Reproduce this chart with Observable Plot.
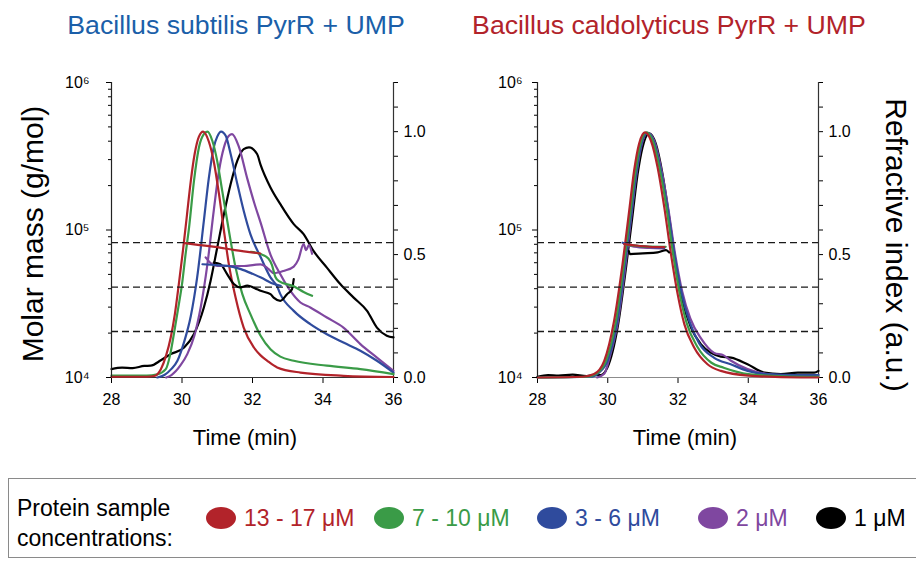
<!DOCTYPE html>
<html><head><meta charset="utf-8">
<script src="https://cdn.jsdelivr.net/npm/d3@7"></script>
<script src="https://cdn.jsdelivr.net/npm/@observablehq/plot@0.6"></script>
<style>
body{margin:0;background:#fff;}
#root{position:relative;width:916px;height:561px;overflow:hidden;font-family:"Liberation Sans",Arial,Helvetica,sans-serif;color:#000;}
.abs{position:absolute;white-space:nowrap;line-height:1;}
.panel{position:absolute;top:0;width:458px;height:420px;}
.panel svg{position:absolute;left:0;top:0;}
.legend{position:absolute;left:8px;top:478px;width:930px;height:80px;border:1px solid #8a8a8a;box-sizing:border-box;}
.legtitle{position:absolute;left:8px;top:14px;font-size:23px;line-height:30px;}
.item{position:absolute;top:27px;display:flex;align-items:center;gap:8px;font-size:23px;line-height:24px;white-space:nowrap;}
.dot{width:30px;height:22px;border-radius:50%;display:inline-block;}
</style></head><body><div id="root"></div>
<script>
// ---------- categories / colours ----------
const concLabels = ["13 - 17 μM", "7 - 10 μM", "3 - 6 μM", "2 μM", "1 μM"];
const concColors = ["#b2232a", "#3a9b47", "#2f4b9d", "#7f47a0", "#000000"];
const panelTitles = ["Bacillus subtilis PyrR + UMP", "Bacillus caldolyticus PyrR + UMP"];
const titleColors = ["#1b5fa9", "#b2232a"];

// ---------- ticks ----------
const timeTicks = [28, 30, 32, 34, 36];
const riTicks = [0, 0.1, 0.2, 0.3, 0.4, 0.5, 0.6, 0.7, 0.8, 0.9, 1.0, 1.1, 1.2];
const riTickLabels = [0, 0.5, 1.0];
const mmMajorTicks = [1e4, 1e5, 1e6];
const mmMajorLabels = ["10⁴", "10⁵", "10⁶"];
const mmMinorTicks = [2e4, 3e4, 4e4, 5e4, 6e4, 7e4, 8e4, 9e4, 2e5, 3e5, 4e5, 5e5, 6e5, 7e5, 8e5, 9e5];
const oligomerLevels = [20500, 41000, 82000];

// ---------- B. subtilis: refractive index [time, RI] ----------
const bsRI_13to17 = [[28,0.003],[29.0,0.003],[29.21,0.006],[29.40,0.034],[29.55,0.09],[29.68,0.163],[29.80,0.26],[29.91,0.38],[30.03,0.52],[30.14,0.66],[30.25,0.80],[30.36,0.91],[30.48,0.98],[30.60,1.0],[30.76,0.96],[30.90,0.88],[31.05,0.746],[31.19,0.597],[31.33,0.46],[31.52,0.325],[31.75,0.203],[32.04,0.122],[32.23,0.09],[32.42,0.068],[32.70,0.041],[33.36,0.02],[34.58,0.007],[36,0.002]];
const bsRI_7to10 = [[28,0.008],[29.0,0.008],[29.3,0.013],[29.54,0.034],[29.66,0.09],[29.77,0.177],[29.89,0.28],[30.01,0.39],[30.10,0.50],[30.20,0.61],[30.34,0.80],[30.48,0.936],[30.62,0.99],[30.72,1.0],[30.86,0.963],[31.0,0.88],[31.14,0.76],[31.33,0.597],[31.52,0.447],[31.71,0.34],[31.94,0.258],[32.23,0.17],[32.51,0.115],[32.79,0.085],[33.17,0.068],[34.11,0.048],[35.06,0.034],[36,0.014]];
const bsRI_3to6 = [[29.3,0.0],[29.5,0.01],[29.7,0.035],[29.87,0.068],[30.05,0.14],[30.25,0.25],[30.43,0.407],[30.62,0.637],[30.76,0.81],[30.90,0.936],[31.0,0.98],[31.11,1.0],[31.24,0.983],[31.38,0.909],[31.57,0.787],[31.75,0.678],[31.94,0.583],[32.23,0.49],[32.51,0.407],[32.70,0.37],[32.79,0.339],[33.17,0.271],[33.64,0.217],[34.11,0.176],[34.58,0.142],[35.06,0.109],[35.53,0.068],[36.0,0.02]];
const bsRI_2 = [[29.55,0.0],[29.7,0.01],[29.96,0.05],[30.15,0.095],[30.35,0.17],[30.53,0.285],[30.72,0.46],[30.90,0.678],[31.05,0.841],[31.19,0.936],[31.33,0.983],[31.42,0.99],[31.61,0.94],[31.85,0.81],[32.05,0.71],[32.23,0.63],[32.51,0.50],[32.79,0.42],[33.07,0.353],[33.36,0.305],[33.64,0.285],[34.11,0.244],[34.58,0.203],[35.06,0.136],[35.53,0.081],[36.0,0.027]];
const bsRI_1 = [[28,0.034],[28.3,0.04],[28.6,0.038],[28.93,0.047],[29.11,0.048],[29.40,0.07],[29.68,0.095],[30.06,0.122],[30.34,0.177],[30.62,0.285],[30.81,0.393],[31.0,0.529],[31.19,0.665],[31.38,0.787],[31.57,0.882],[31.75,0.929],[31.90,0.936],[32.13,0.909],[32.23,0.865],[32.51,0.773],[32.79,0.705],[33.17,0.624],[33.45,0.583],[33.73,0.515],[34.11,0.447],[34.49,0.38],[34.87,0.325],[35.25,0.271],[35.53,0.203],[35.81,0.17],[36.0,0.163]];

// ---------- B. subtilis: molar mass [time, g/mol] ----------
const bsMM_13to17 = [[30.08,81500],[30.5,79000],[31.0,76500],[31.5,73000],[32.22,69300]];
const bsMM_7to10 = [[31.95,71000],[32.23,68700],[32.45,64000],[32.55,58000],[32.65,48000],[32.75,45000],[33.17,41500],[33.45,38000],[33.69,35800]];
const bsMM_3to6 = [[30.58,58600],[31.0,57800],[31.29,57100],[31.67,54300],[32.0,50500],[32.24,47600],[32.61,43000],[32.8,41800]];
const bsMM_2 = [[30.67,65200],[30.8,60000],[31.0,57000],[31.3,57000],[31.76,57000],[32.05,58000],[32.23,58500],[32.43,55000],[32.61,51000],[32.9,53000],[33.17,56500],[33.3,63000],[33.45,80200],[33.52,73000],[33.6,79000],[33.69,69000]];
const bsMM_1 = [[30.9,60200],[31.09,58700],[31.28,50200],[31.47,43000],[31.66,40800],[31.85,41900],[32.13,39700],[32.23,38700],[32.51,36700],[32.60,34800],[32.79,33100],[32.98,36700],[33.12,39700],[33.17,46400]];

// ---------- B. caldolyticus: refractive index [time, RI] ----------
const bcRI_13to17 = [[28,0],[29.3,0.003],[29.61,0.014],[29.90,0.068],[30.18,0.23],[30.42,0.46],[30.61,0.678],[30.75,0.841],[30.89,0.95],[31.06,0.997],[31.23,0.963],[31.42,0.854],[31.61,0.692],[31.80,0.502],[31.99,0.339],[32.18,0.217],[32.46,0.122],[32.84,0.054],[33.22,0.027],[34.0,0.008],[35.5,0.0],[36,0]];
const bcRI_7to10 = [[28,0],[29.4,0.003],[29.68,0.016],[29.95,0.068],[30.22,0.22],[30.46,0.46],[30.65,0.68],[30.79,0.84],[30.93,0.95],[31.10,0.997],[31.28,0.963],[31.47,0.854],[31.67,0.692],[31.86,0.502],[32.05,0.34],[32.25,0.22],[32.55,0.125],[32.95,0.06],[33.3,0.04],[34.0,0.014],[35.0,0.005],[36,0.003]];
const bcRI_3to6 = [[28,0],[29.5,0.003],[29.75,0.02],[30.0,0.07],[30.26,0.22],[30.49,0.46],[30.68,0.68],[30.82,0.84],[30.96,0.95],[31.13,0.995],[31.31,0.96],[31.50,0.85],[31.70,0.69],[31.90,0.50],[32.1,0.345],[32.32,0.23],[32.6,0.14],[33.03,0.08],[33.5,0.054],[33.98,0.027],[34.5,0.014],[35.5,0.01],[36,0.01]];
const bcRI_2 = [[29.7,0.0],[29.9,0.015],[30.05,0.08],[30.28,0.22],[30.5,0.45],[30.69,0.68],[30.83,0.84],[30.97,0.95],[31.14,0.995],[31.33,0.96],[31.52,0.85],[31.72,0.69],[31.92,0.50],[32.12,0.35],[32.35,0.24],[32.65,0.16],[33.03,0.1],[33.3,0.09],[33.51,0.068],[33.98,0.034],[34.5,0.015],[35,0.01],[36,0.01]];
const bcRI_1 = [[28,0.003],[28.3,0.01],[28.6,0.008],[29.0,0.012],[29.4,0.006],[29.6,0.01],[29.80,0.01],[29.99,0.04],[30.28,0.203],[30.52,0.447],[30.71,0.665],[30.85,0.827],[30.99,0.936],[31.18,0.993],[31.37,0.95],[31.56,0.827],[31.75,0.651],[31.94,0.461],[32.13,0.312],[32.37,0.203],[32.65,0.136],[32.94,0.1],[33.22,0.085],[33.51,0.081],[33.98,0.054],[34.46,0.02],[34.93,0.014],[35.41,0.02],[35.88,0.02],[36.0,0.027]];

// ---------- B. caldolyticus: molar mass [time, g/mol] ----------
const bcMM_13to17 = [[30.47,80200],[30.8,78500],[31.2,77000],[31.61,76500]];
const bcMM_7to10 = [[30.5,79500],[31.0,77500],[31.65,77000]];
const bcMM_3to6 = [[30.42,82000],[30.8,78000],[31.3,76500],[31.62,76000]];
const bcMM_2 = [[30.45,81000],[30.75,77000],[31.2,75500],[31.6,75000]];
const bcMM_1 = [[30.6,72000],[30.63,68700],[31.0,69500],[31.42,70500],[31.66,73000],[31.75,70500]];

// ---------- build tables (drawing order: 1, 2, 3-6, 7-10, 13-17) ----------
function toRows(list) {
  return list.flatMap(([conc, pts]) => pts.map(([t, v]) => ({conc, t, v})));
}
const bsRI = toRows([["1 μM", bsRI_1], ["2 μM", bsRI_2], ["3 - 6 μM", bsRI_3to6], ["7 - 10 μM", bsRI_7to10], ["13 - 17 μM", bsRI_13to17]]);
const bsMM = toRows([["1 μM", bsMM_1], ["2 μM", bsMM_2], ["3 - 6 μM", bsMM_3to6], ["7 - 10 μM", bsMM_7to10], ["13 - 17 μM", bsMM_13to17]]);
const bcRI = toRows([["1 μM", bcRI_1], ["2 μM", bcRI_2], ["3 - 6 μM", bcRI_3to6], ["7 - 10 μM", bcRI_7to10], ["13 - 17 μM", bcRI_13to17]]);
const bcMM = toRows([["1 μM", bcMM_1], ["2 μM", bcMM_2], ["3 - 6 μM", bcMM_3to6], ["7 - 10 μM", bcMM_7to10], ["13 - 17 μM", bcMM_13to17]]);

const root = document.getElementById("root");
const FONT = '"Liberation Sans", Arial, Helvetica, sans-serif';

function makePanel(riRows, mmRows, cfg) {
  const div = document.createElement("div");
  div.className = "panel";
  div.style.left = cfg.left + "px";
  const common = {
    width: 458, height: 420,
    marginTop: 82, marginBottom: 43, marginLeft: cfg.ml, marginRight: cfg.mr,
    style: {background: "transparent", fontFamily: FONT, fontSize: "16px", color: "#000", overflow: "visible"},
    color: {domain: concLabels, range: concColors}
  };
  const riPlot = Plot.plot({
    ...common,
    x: {domain: [28, 36]},
    y: {domain: [0, 1.2]},
    marks: [
      Plot.axisX({ticks: timeTicks, tickSize: 6, tickPadding: 10, tickFormat: d => String(d), label: null, fontSize: 16}),
      Plot.axisY({anchor: "right", ticks: riTicks, tickSize: 4, tickPadding: 6, label: null, fontSize: 16,
        tickFormat: d => riTickLabels.some(v => Math.abs(v - d) < 1e-9) ? d.toFixed(1) : ""}),
      Plot.ruleY([0], {stroke: cfg.bottomColor, strokeWidth: 1.2}),
      Plot.ruleX([36], {stroke: "#333", strokeWidth: 1.2}),
      Plot.line(riRows, {x: "t", y: "v", z: "conc", stroke: "conc", strokeWidth: 2.2, curve: "monotone-x"})
    ]
  });
  const mmPlot = Plot.plot({
    ...common,
    x: {domain: [28, 36], axis: null},
    y: {type: "log", domain: [1e4, 1e6]},
    marks: [
      Plot.ruleY(oligomerLevels, {stroke: "#1a1a1a", strokeWidth: 1.3, strokeDasharray: "7,4"}),
      Plot.axisY({ticks: mmMinorTicks, tickSize: 3, tickFormat: () => "", label: null}),
      Plot.axisY({ticks: mmMajorTicks, tickSize: 5, tickPadding: cfg.ypad, label: null, fontSize: 16,
        tickFormat: d => mmMajorLabels[mmMajorTicks.indexOf(d)] ?? ""}),
      Plot.ruleX([28], {stroke: "#222", strokeWidth: 1.2}),
      Plot.line(mmRows, {x: "t", y: "v", z: "conc", stroke: "conc", strokeWidth: 2.2, curve: "monotone-x"})
    ]
  });
  div.appendChild(riPlot);
  div.appendChild(mmPlot);
  root.appendChild(div);
}

makePanel(bsRI, bsMM, {left: 0, ml: 111, mr: 65, ypad: 17, bottomColor: "#333"});
makePanel(bcRI, bcMM, {left: 458, ml: 79, mr: 98, ypad: 10, bottomColor: "#8c8c8c"});

function addText(text, x, y, size, color, extra) {
  const d = document.createElement("div");
  d.className = "abs";
  d.textContent = text;
  d.style.left = x + "px";
  d.style.top = y + "px";
  d.style.fontSize = size + "px";
  d.style.color = color;
  d.style.transform = "translate(-50%,-50%)" + (extra || "");
  root.appendChild(d);
}
addText(panelTitles[0], 236, 25, 26.7, titleColors[0]);
addText(panelTitles[1], 669, 25, 26.7, titleColors[1]);
addText("Time (min)", 245, 438, 22, "#000");
addText("Time (min)", 685, 438, 22, "#000");
addText("Molar mass (g/mol)", 33, 234, 30, "#000", " rotate(-90deg)");
addText("Refractive index (a.u.)", 896, 245, 30, "#000", " rotate(90deg)");

// ---------- legend (layout: left edge of each swatch, relative to the box) ----------
const legendItemLeft = [197, 365, 528, 689, 807];
const leg = document.createElement("div");
leg.className = "legend";
const lt = document.createElement("div");
lt.className = "legtitle";
lt.innerHTML = "Protein sample<br>concentrations:";
leg.appendChild(lt);
concLabels.forEach((lab, i) => {
  const it = document.createElement("div");
  it.className = "item";
  it.style.left = legendItemLeft[i] + "px";
  const dot = document.createElement("span");
  dot.className = "dot";
  dot.style.background = concColors[i];
  const tx = document.createElement("span");
  tx.textContent = lab;
  tx.style.color = concColors[i];
  it.appendChild(dot);
  it.appendChild(tx);
  leg.appendChild(it);
});
root.appendChild(leg);
</script>
</body></html>
